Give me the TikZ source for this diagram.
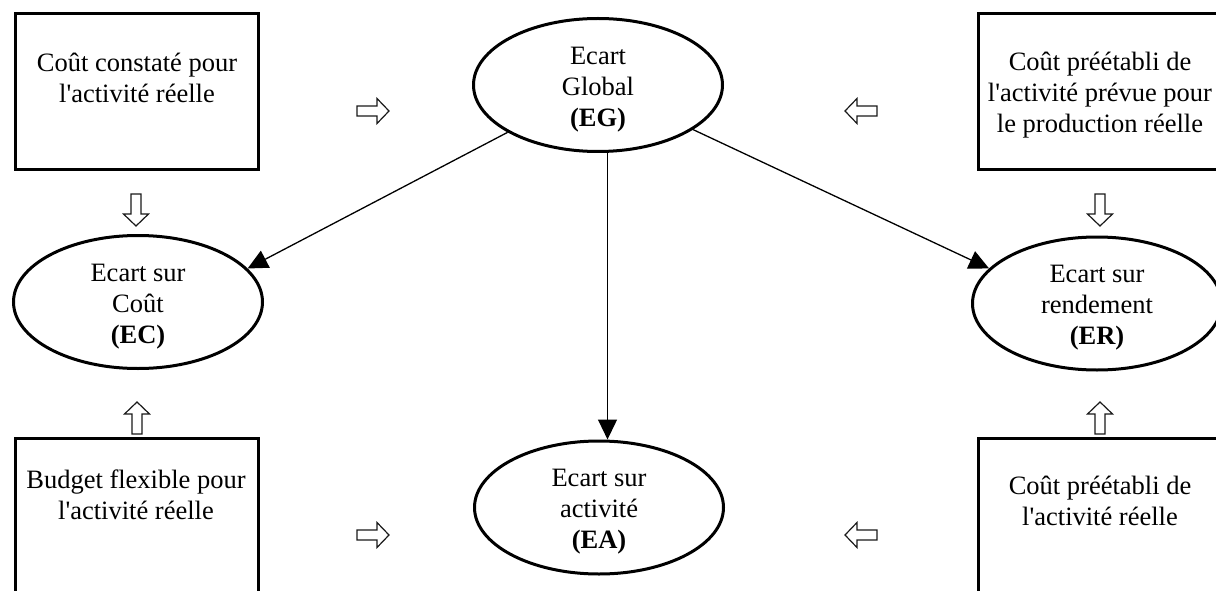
\documentclass[tikz,border=0pt]{standalone}
\usepackage{fontspec}
\setmainfont{Liberation Serif}
\usetikzlibrary{arrows.meta,shapes.geometric}
\newcommand\diagfont{\fontsize{26.5}{31}\selectfont}
\newcommand\apos{\textquotesingle}
\tikzset{
  ell/.style={ellipse,draw,line width=3pt,inner sep=0pt,minimum width=249pt,minimum height=133pt},
  elltext/.style={align=center,font=\diagfont,inner sep=0pt,yshift=-4.5pt},
  boxframe/.style={draw,line width=3pt},
  boxtext/.style={align=center,font=\diagfont,inner sep=0pt},
  conn/.style={line width=1.3pt,-{Triangle[length=20pt,width=19pt]}},
  barrow/.pic={\draw[line width=1.2pt,black!90] (-16,-5) -- (4,-5) -- (4,-12.5) -- (16,0) -- (4,12.5) -- (4,5) -- (-16,5) -- cycle;}
}
\begin{document}
\begin{tikzpicture}[x=1pt,y=-1pt]
\useasboundingbox (0,0) rectangle (1216,591);
\clip (0,0) rectangle (1216,591);
% boxes
\draw[boxframe] (15.5,13.5) rectangle (258.5,169.5);
\node[boxtext] (t1) at (137,78) {Coût constaté pour\\l\apos activité réelle};
\draw[boxframe] (978.5,13.5) rectangle (1221.5,169.5);
\node[boxtext] (t2) at (1100,95) {Coût préétabli de\\l\apos activité prévue pour\\le production réelle};
\draw[boxframe] (15.5,438.5) rectangle (258.5,600);
\node[boxtext] (t3) at (136,495) {Budget flexible pour\\l\apos activité réelle};
\draw[boxframe] (978.5,438.5) rectangle (1221.5,600);
\node[boxtext] (t4) at (1100,501) {Coût préétabli de\\l\apos activité réelle};
% ellipses
\node[ell,label={[elltext]center:{Ecart\\Global\\\textbf{(EG)}}}] (EG) at (598,85) {};
\node[ell,label={[elltext]center:{Ecart sur\\Coût\\\textbf{(EC)}}}] (EC) at (138,302) {};
\node[ell,label={[elltext]center:{Ecart sur\\activité\\\textbf{(EA)}}}] (EA) at (599,507.5) {};
\node[ell,label={[elltext]center:{Ecart sur\\rendement\\\textbf{(ER)}}}] (ER) at (1097,303.5) {};
% connectors
\draw[conn] (EG) -- (EC.17);
\draw[conn] (EG) -- (ER.162);
\draw[conn] (EG.-82) -- (EG.-82 |- EA.north);
% block arrows
\pic at (373,111) {barrow};
\pic[rotate=180] at (861,111) {barrow};
\pic at (373,535) {barrow};
\pic[rotate=180] at (861,535) {barrow};
\pic[rotate=-90] at (136,210) {barrow};
\pic[rotate=-90] at (1100,210) {barrow};
\pic[rotate=90] at (137,418) {barrow};
\pic[rotate=90] at (1100,418) {barrow};
\end{tikzpicture}
\end{document}
